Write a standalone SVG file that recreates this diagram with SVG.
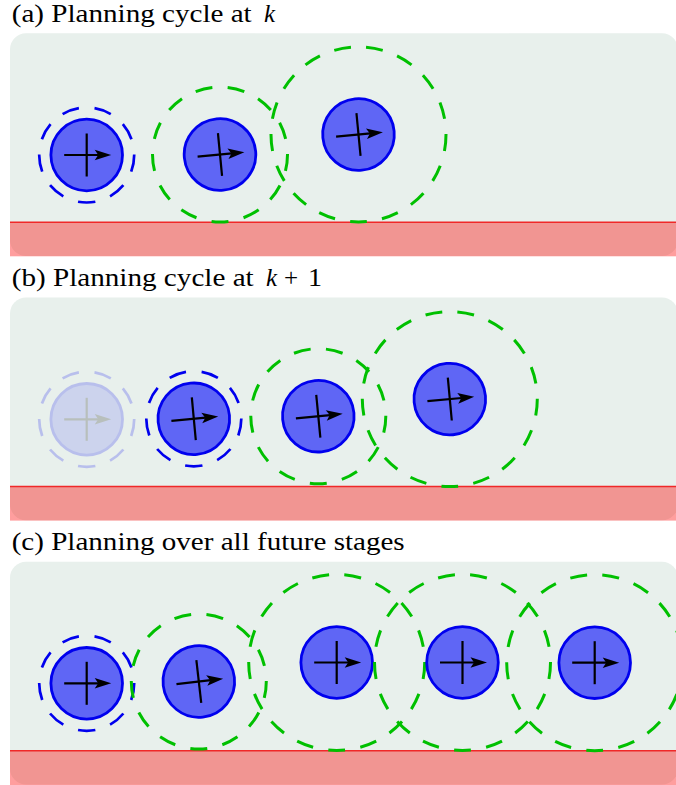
<svg xmlns="http://www.w3.org/2000/svg" width="676" height="785" viewBox="0 0 676 785">
<style>
.title{font-size:25px;fill:#000}
.math{font-size:25px;font-style:italic;fill:#000}
.bg{fill:#e8f0ec}
.red{fill:rgba(255,0,0,0.38)}
.redline{stroke:#f02828;stroke-width:1.5}
.dblue{fill:none;stroke:#0000ee;stroke-width:2.7;stroke-dasharray:1.05 0.95;stroke-dashoffset:0.525}
.dgreen{fill:none;stroke:#00c000;stroke-width:3;stroke-dasharray:1.05 0.95;stroke-dashoffset:0.525}
.body{fill:#5f66f5;stroke:#0000ee;stroke-width:2.8}
.ax{stroke:#000;stroke-width:2.2;fill:none}
.head{fill:#000}
</style>
<defs>
<g id="robot">
<circle class="body" cx="0" cy="0" r="35.8"/>
<line class="ax" x1="-22.5" y1="0" x2="12" y2="0"/>
<line class="ax" x1="0" y1="-21.5" x2="0" y2="21.5"/>
<path class="head" d="M24.5,0 L8,-5.3 L11.5,0 L8,5.3 Z"/>
</g>
</defs>

<!-- Panel (a) -->
<g id="panel-a">
<text class="title" font-family="Liberation Serif, DejaVu Serif, serif" x="11.7" y="21.7" textLength="240" lengthAdjust="spacingAndGlyphs">(a) Planning cycle at</text>
<text class="math" font-family="Liberation Serif, DejaVu Serif, serif" x="264" y="21.7">k</text>
<rect class="bg" x="10" y="33.3" width="668" height="222.7" rx="16"/>
<rect class="red" x="10" y="222.3" width="668" height="34"/>
<line class="redline" x1="10" y1="222.3" x2="676" y2="222.3"/>
<g id="a-robot1" transform="translate(86.7,155)">
<path class="dblue" d="M0,47.5 A47.5,47.5 0 1 1 0,-47.5 A47.5,47.5 0 1 1 0,47.5" pathLength="18"/>
<use href="#robot"/>
</g>
<g id="a-robot2" transform="translate(220,154.5)">
<path class="dgreen" d="M0,67.5 A67.5,67.5 0 1 1 0,-67.5 A67.5,67.5 0 1 1 0,67.5" pathLength="26"/>
<use href="#robot" transform="rotate(-5.5)"/>
</g>
<g id="a-robot3" transform="translate(358.5,134.5)">
<path class="dgreen" d="M0,87.5 A87.5,87.5 0 1 1 0,-87.5 A87.5,87.5 0 1 1 0,87.5" pathLength="34"/>
<use href="#robot" transform="rotate(-5.5)"/>
</g>
</g>

<!-- Panel (b) -->
<g id="panel-b">
<text class="title" font-family="Liberation Serif, DejaVu Serif, serif" x="11.7" y="286" textLength="242" lengthAdjust="spacingAndGlyphs">(b) Planning cycle at</text>
<text class="math" font-family="Liberation Serif, DejaVu Serif, serif" x="266" y="286">k</text>
<text class="title" font-family="Liberation Serif, DejaVu Serif, serif" x="284" y="286">+</text>
<text class="title" font-family="Liberation Serif, DejaVu Serif, serif" x="308" y="286" textLength="14" lengthAdjust="spacingAndGlyphs">1</text>
<rect class="bg" x="10" y="297.6" width="668" height="222.7" rx="16"/>
<rect class="red" x="10" y="486.6" width="668" height="34"/>
<line class="redline" x1="10" y1="486.6" x2="676" y2="486.6"/>
<g id="b-robot0" transform="translate(86.7,419.3)" opacity="0.2">
<path class="dblue" d="M0,47.5 A47.5,47.5 0 1 1 0,-47.5 A47.5,47.5 0 1 1 0,47.5" pathLength="18"/>
<use href="#robot"/>
</g>
<g id="b-robot1" transform="translate(193.8,418.8)">
<path class="dblue" d="M0,47.5 A47.5,47.5 0 1 1 0,-47.5 A47.5,47.5 0 1 1 0,47.5" pathLength="18"/>
<use href="#robot" transform="rotate(-5.3)"/>
</g>
<g id="b-robot2" transform="translate(318.3,416.2)">
<path class="dgreen" d="M0,67.5 A67.5,67.5 0 1 1 0,-67.5 A67.5,67.5 0 1 1 0,67.5" pathLength="26"/>
<use href="#robot" transform="rotate(-5.5)"/>
</g>
<g id="b-robot3" transform="translate(449.8,399.1)">
<path class="dgreen" d="M0,87.5 A87.5,87.5 0 1 1 0,-87.5 A87.5,87.5 0 1 1 0,87.5" pathLength="34"/>
<use href="#robot" transform="rotate(-5.3)"/>
</g>
</g>

<!-- Panel (c) -->
<g id="panel-c">
<text class="title" font-family="Liberation Serif, DejaVu Serif, serif" x="11.7" y="550.3" textLength="393" lengthAdjust="spacingAndGlyphs">(c) Planning over all future stages</text>
<rect class="bg" x="10" y="561.7" width="668" height="222.7" rx="16"/>
<rect class="red" x="10" y="750.7" width="668" height="34.3"/>
<line class="redline" x1="10" y1="750.7" x2="676" y2="750.7"/>
<g id="c-robot1" transform="translate(86.7,683.3)">
<path class="dblue" d="M0,47.5 A47.5,47.5 0 1 1 0,-47.5 A47.5,47.5 0 1 1 0,47.5" pathLength="18"/>
<use href="#robot"/>
</g>
<g id="c-robot2" transform="translate(198.8,681.5)">
<path class="dgreen" d="M0,67.5 A67.5,67.5 0 1 1 0,-67.5 A67.5,67.5 0 1 1 0,67.5" pathLength="26"/>
<use href="#robot" transform="rotate(-6.5)"/>
</g>
<g id="c-robot3" transform="translate(336.7,662.5)">
<path class="dgreen" d="M0,88 A88,88 0 1 1 0,-88 A88,88 0 1 1 0,88" pathLength="34"/>
<use href="#robot"/>
</g>
<g id="c-robot4" transform="translate(462.5,662.5)">
<path class="dgreen" d="M0,88 A88,88 0 1 1 0,-88 A88,88 0 1 1 0,88" pathLength="34"/>
<use href="#robot"/>
</g>
<g id="c-robot5" transform="translate(594.7,662.7)">
<path class="dgreen" d="M0,88 A88,88 0 1 1 0,-88 A88,88 0 1 1 0,88" pathLength="34"/>
<use href="#robot"/>
</g>
</g>
</svg>
